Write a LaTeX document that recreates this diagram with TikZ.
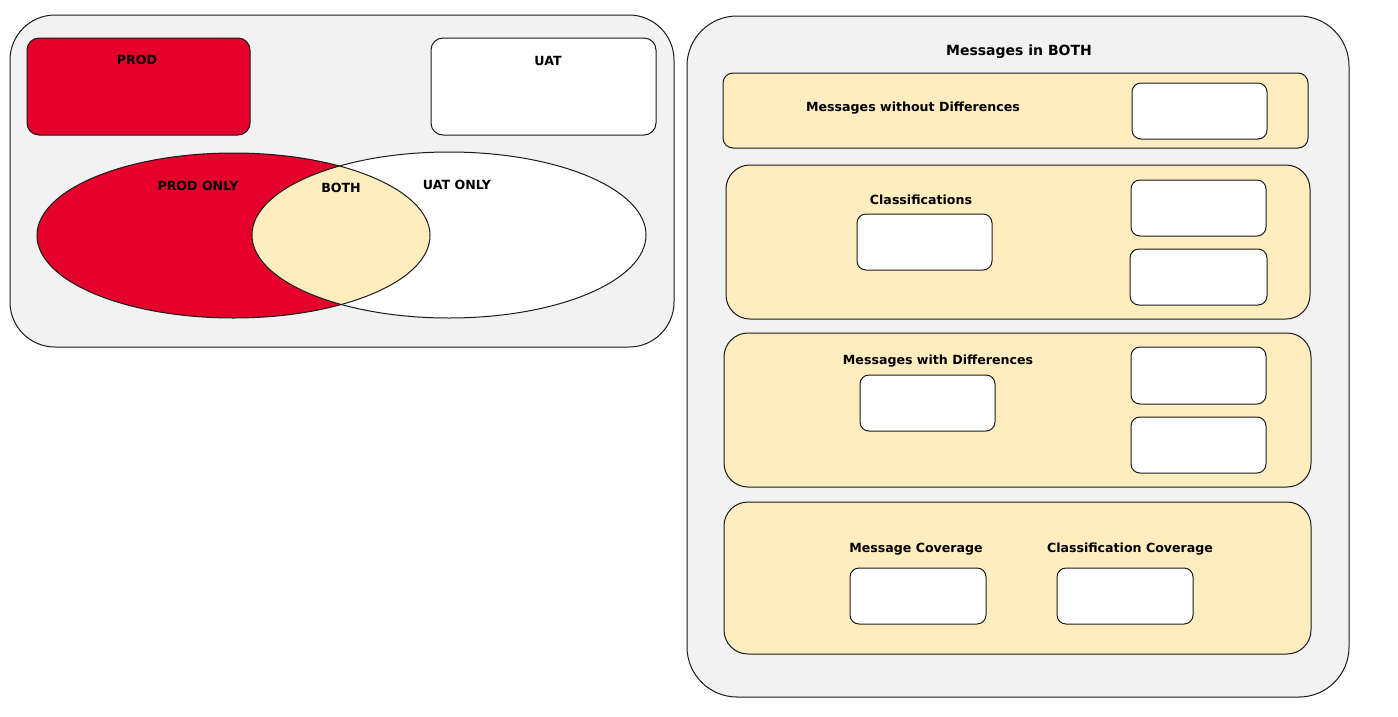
\documentclass[tikz,border=0pt]{standalone}
\usepackage{fontspec}
\setmainfont{DejaVu Sans}
\definecolor{bgGray}{HTML}{F2F2F2}
\definecolor{prodRed}{HTML}{E4002B}
\definecolor{bothYel}{HTML}{FFEDBF}
\definecolor{edge}{HTML}{1A1A1A}
\begin{document}
\begin{tikzpicture}[x=1pt,y=-1pt,
  frame/.style={draw=edge, fill=bgGray, line width=1pt, inner sep=0pt, outer sep=0pt, anchor=north west},
  panel/.style={draw=edge, fill=bothYel, line width=1pt, inner sep=0pt, outer sep=0pt, anchor=north west},
  wbox/.style={draw=edge, fill=white, line width=1pt, rounded corners=9pt, inner sep=0pt, outer sep=0pt, anchor=north west, minimum width=135pt, minimum height=56pt},
  lbl/.style={font=\bfseries\fontsize{12.6}{14}\selectfont, inner sep=0pt, yshift=-1.5pt},
  ttl/.style={font=\bfseries\fontsize{14}{16}\selectfont, inner sep=0pt, yshift=-2pt}]
\useasboundingbox (0,0) rectangle (1398,716);
\fill[white] (0,0) rectangle (1398,716);

% ---------- left container ----------
\node[frame, rounded corners=45pt, minimum width=664pt, minimum height=332pt] (left) at (10,15) {};
\node[frame, fill=prodRed, rounded corners=12pt, minimum width=223pt, minimum height=97pt] (prod) at (27,38) {};
\node[frame, fill=white, rounded corners=12pt, minimum width=225pt, minimum height=97pt] (uat) at (431,38) {};
\node[lbl] (prodT) at (137,58) {PROD};
\node[lbl] (uatT) at (548,59) {UAT};

% Venn
\coordinate (cP) at (233.5,235.5);
\coordinate (cU) at (449,235);
\fill[prodRed] (cP) ellipse [x radius=196.5, y radius=82.5];
\fill[white] (cU) ellipse [x radius=197, y radius=83];
\begin{scope}
  \clip (cP) ellipse [x radius=196.5, y radius=82.5];
  \fill[bothYel] (cU) ellipse [x radius=197, y radius=83];
\end{scope}
\draw[edge, line width=1pt] (cP) ellipse [x radius=196.5, y radius=82.5];
\draw[edge, line width=1pt] (cU) ellipse [x radius=197, y radius=83];
\node[lbl] (prodOnly) at (198,184) {PROD ONLY};
\node[lbl] (both) at (341,186) {BOTH};
\node[lbl] (uatOnly) at (457,183) {UAT ONLY};

% ---------- right container ----------
\node[frame, rounded corners=50pt, minimum width=662pt, minimum height=681pt] (right) at (687,16) {};
\node[ttl] (title) at (1019,50) {Messages in BOTH};

% panel 1
\node[panel, rounded corners=10pt, minimum width=585pt, minimum height=75pt] (p1) at (723,73) {};
\node[lbl] (p1T) at (913,107) {Messages without Differences};
\node[wbox] (p1a) at (1132,83) {};

% panel 2
\node[panel, rounded corners=24pt, minimum width=584pt, minimum height=154pt] (p2) at (726,165) {};
\node[lbl] (p2T) at (921,198) {Classifications};
\node[wbox] (p2a) at (857,214) {};
\node[wbox] (p2b) at (1131,180) {};
\node[wbox, minimum width=137pt] (p2c) at (1130,249) {};

% panel 3
\node[panel, rounded corners=24pt, minimum width=587pt, minimum height=154pt] (p3) at (724,333) {};
\node[lbl] (p3T) at (938,360) {Messages with Differences};
\node[wbox] (p3a) at (860,375) {};
\node[wbox, minimum height=57pt] (p3b) at (1131,347) {};
\node[wbox] (p3c) at (1131,417) {};

% panel 4
\node[panel, rounded corners=24pt, minimum width=587pt, minimum height=152pt] (p4) at (724,502) {};
\node[lbl] (p4T1) at (916,548) {Message Coverage};
\node[lbl] (p4T2) at (1130,548) {Classification Coverage};
\node[wbox, minimum width=136pt] (p4a) at (850,568) {};
\node[wbox, minimum width=136pt] (p4b) at (1057,568) {};
\end{tikzpicture}
\end{document}
